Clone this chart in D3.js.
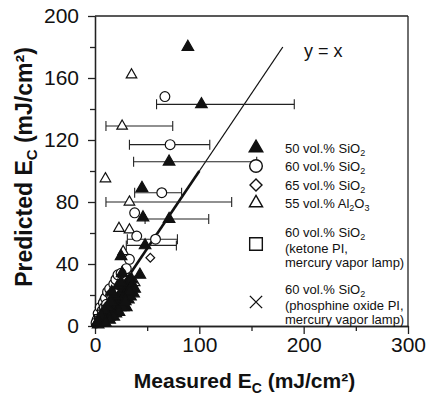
<!DOCTYPE html>
<html><head><meta charset="utf-8">
<script src="https://cdn.jsdelivr.net/npm/d3@7"></script>
<style>body{margin:0;background:#fff}svg{display:block}text{font-family:"Liberation Sans",Arial,sans-serif;fill:#111}</style>
</head><body><svg id="c" width="427" height="399"></svg>
<script>
// ---- data ----
const xTicksMajor = [0, 100, 200, 300];
const xTicksMinor = [50, 150, 250];
const yTicksMajor = [0, 40, 80, 120, 160, 200];
const yTicksMinor = [20, 60, 100, 140, 180];

// 50 vol.% SiO2 (filled triangles)
const sio2_50 = [[89,180],[102,143],[71,106],[45,89],[46,70],[71,69],[48,52],[25,45],[43,33],[26,34],[37,21],[32,17],
  [2,2],[3,1],[4,3],[5,2],[6,4],[7,5],[8,3],[9,6],[10,5],[11,8],[12,7],[13,9],[14,6],[15,10],[16,12],[17,9],[18,14],
  [19,11],[20,15],[21,13],[22,18],[23,16],[24,20],[25,17],[26,22],[27,24],[28,19],[29,26],[30,21],[31,28],[33,25],
  [35,30],[20,8],[24,12],[28,14],[30,12],[34,24],[22,26],[18,20],[12,12],[9,10],[15,16],[6,7],[3,3],
  [36,26],[38,24],[34,19],[27,12],[23,9],[18,6],[14,4],[10,2],[33,22],[29,16],[25,28],[16,22]];
const sio2_50_err = [[102,143,59,191],[71,106,37,155],[71,69,48,109],[48,52,30,78]];
// 60 vol.% SiO2 (open circles)
const sio2_60 = [[67,148],[72,117],[64,86],[38,73],[40,58],[58,56],[33,43],[30,37],
  [2,4],[3,8],[5,12],[7,10],[8,15],[10,18],[12,22],[14,24],[15,20],[18,27],[20,30],[22,33],[6,6],[9,12],[11,14],[16,18],[25,34],[1,2],[13,11],[19,18]];
const sio2_60_err = [[72,117,33,110],[64,86,38,83],[58,56,31,79]];
// 65 vol.% SiO2 (open diamonds)
const sio2_65 = [[53,44],[9,9],[14,15],[20,22],[5,5],[17,13]];
// 55 vol.% Al2O3 (open triangles)
const al2o3_55 = [[35,162],[26,129],[10,95],[33,80],[23,63],[33,62],[27,48],[38,28],
  [4,9],[6,14],[10,20],[13,18],[17,24],[19,28],[22,30],[30,36],[8,7]];
const al2o3_55_err = [[26,129,10.5,74.5],[33,80,10.5,131]];
// 60 vol.% SiO2, ketone PI (open squares)
const ketone = [[3,5],[6,8],[10,11]];
// 60 vol.% SiO2, phosphine oxide PI (crosses)
const phosphine = [[4,4],[7,6],[11,9]];

const fitThick = [[0,0],[100,100]];
const fitThin = [[0,0],[180,180]];

// ---- chart ----
const svg = d3.select("#c");
const x = d3.scaleLinear().domain([0,300]).range([95,408]);
const y = d3.scaleLinear().domain([0,200]).range([326,16]);

// frame
svg.append("line").attr("x1",x(0)).attr("x2",x(300)).attr("y1",y(200)).attr("y2",y(200)).attr("stroke","#222").attr("stroke-width",1.3);
svg.append("line").attr("x1",x(300)).attr("x2",x(300)).attr("y1",y(0)).attr("y2",y(200)).attr("stroke","#222").attr("stroke-width",1.3);

function styleAxis(g){ g.select(".domain").attr("stroke","#222").attr("stroke-width",1.3); g.selectAll(".tick line").attr("stroke","#222").attr("stroke-width",1.3); }

svg.append("g").attr("transform",`translate(0,${y(0)})`)
  .call(d3.axisBottom(x).tickValues(xTicksMajor).tickSize(8).tickPadding(3).tickSizeOuter(0))
  .call(styleAxis)
  .call(g=>g.selectAll(".tick text").attr("font-size",21).attr("fill","#111").attr("font-family","Liberation Sans, Arial, sans-serif"));
svg.append("g").attr("transform",`translate(0,${y(0)})`)
  .call(d3.axisBottom(x).tickValues(xTicksMinor).tickSize(5).tickFormat("").tickSizeOuter(0))
  .call(styleAxis);
svg.append("g").attr("transform",`translate(${x(0)},0)`)
  .call(d3.axisLeft(y).tickValues(yTicksMajor).tickSize(7).tickPadding(9).tickSizeOuter(0))
  .call(styleAxis)
  .call(g=>g.selectAll(".tick text").attr("font-size",21).attr("fill","#111").attr("font-family","Liberation Sans, Arial, sans-serif"));
svg.append("g").attr("transform",`translate(${x(0)},0)`)
  .call(d3.axisLeft(y).tickValues(yTicksMinor).tickSize(5).tickFormat("").tickSizeOuter(0))
  .call(styleAxis);

// axis titles
const xt = svg.append("text").attr("x",(x(0)+x(300))/2 - 7).attr("y",388).attr("text-anchor","middle")
  .attr("font-size",21).attr("font-weight","bold");
xt.append("tspan").text("Measured E");
xt.append("tspan").attr("font-size",14).attr("dy",5).text("C");
xt.append("tspan").attr("dy",-5).text(" (mJ/cm²)");
const yt = svg.append("text").attr("transform",`translate(32,${(y(0)+y(200))/2 - 4}) rotate(-90)`).attr("text-anchor","middle")
  .attr("font-size",23).attr("font-weight","bold");
yt.append("tspan").text("Predicted E");
yt.append("tspan").attr("font-size",15).attr("dy",5).text("C");
yt.append("tspan").attr("dy",-5).text(" (mJ/cm²)");

// fit line y = x
const ln = d3.line().x(d=>x(d[0])).y(d=>y(d[1]));
svg.append("path").attr("d",ln(fitThin)).attr("stroke","#111").attr("stroke-width",1.3).attr("fill","none");
svg.append("path").attr("d",ln(fitThick)).attr("stroke","#111").attr("stroke-width",2.6).attr("fill","none");
svg.append("text").attr("x",304).attr("y",57).attr("font-size",18).text("y = x");

// error bars
function errBars(data){
  const g = svg.append("g").attr("stroke","#222").attr("stroke-width",1.1).attr("fill","none");
  data.forEach(d=>{
    g.append("line").attr("x1",x(d[2])).attr("x2",x(d[3])).attr("y1",y(d[1])).attr("y2",y(d[1]));
    g.append("line").attr("x1",x(d[2])).attr("x2",x(d[2])).attr("y1",y(d[1])-5).attr("y2",y(d[1])+5);
    g.append("line").attr("x1",x(d[3])).attr("x2",x(d[3])).attr("y1",y(d[1])-5).attr("y2",y(d[1])+5);
  });
}
errBars(sio2_50_err); errBars(sio2_60_err); errBars(al2o3_55_err);

const symX = {draw(ctx,size){const r=Math.sqrt(size)/2; ctx.moveTo(-r,-r); ctx.lineTo(r,r); ctx.moveTo(r,-r); ctx.lineTo(-r,r);}};

function marks(data, type, size, fill, rot, sw){
  svg.append("g").selectAll("path").data(data).join("path")
    .attr("d", d3.symbol().type(type).size(size))
    .attr("transform", d=>`translate(${x(d[0])},${y(d[1])}) rotate(${rot||0})`)
    .attr("fill", fill).attr("stroke","#111").attr("stroke-width", sw||1.2);
}
marks(al2o3_55, d3.symbolTriangle, 48, "#fff");
marks(sio2_60, d3.symbolCircle, 75, "#fff");
marks(sio2_65, d3.symbolSquare, 38, "#fff", 45);
marks(ketone, d3.symbolSquare, 50, "#fff");
marks(phosphine, symX, 60, "none", 0, 1.3);
marks(sio2_50, d3.symbolTriangle, 58, "#111");

// legend
const legend = [
  {t:d3.symbolTriangle, s:80, f:"#111", r:0, cy:148, lines:[["50 vol.% SiO","2",""]], by:[152.5]},
  {t:d3.symbolCircle, s:125, f:"#fff", r:0, cy:166, lines:[["60 vol.% SiO","2",""]], by:[171]},
  {t:d3.symbolSquare, s:72, f:"#fff", r:45, cy:185, lines:[["65 vol.% SiO","2",""]], by:[189.5]},
  {t:d3.symbolTriangle, s:75, f:"#fff", r:0, cy:203, lines:[["55 vol.% Al","2","O","3"]], by:[208]},
  {t:d3.symbolSquare, s:160, f:"#fff", r:0, cy:244, lines:[["60 vol.% SiO","2",""],["(ketone PI,"],["mercury vapor lamp)"]], by:[237,253,267]},
  {t:symX, s:150, f:"none", r:0, cy:302, lines:[["60 vol.% SiO","2",""],["(phosphine oxide PI,"],["mercury vapor lamp)"]], by:[294,310,324]}
];
legend.forEach(L=>{
  svg.append("path").attr("d",d3.symbol().type(L.t).size(L.s)).attr("transform",`translate(256,${L.cy}) rotate(${L.r})`)
    .attr("fill",L.f).attr("stroke","#111").attr("stroke-width",1.4);
  L.lines.forEach((parts,i)=>{
    const t = svg.append("text").attr("x",285).attr("y",L.by[i]).attr("font-size",13);
    t.append("tspan").text(parts[0]);
    if(parts.length>1){
      t.append("tspan").attr("font-size",9).attr("dy",3).text(parts[1]);
      if(parts[2]) t.append("tspan").attr("font-size",13).attr("dy",-3).text(parts[2]);
      if(parts[3]) t.append("tspan").attr("font-size",9).attr("dy",3).text(parts[3]);
    }
  });
});
</script></body></html>
